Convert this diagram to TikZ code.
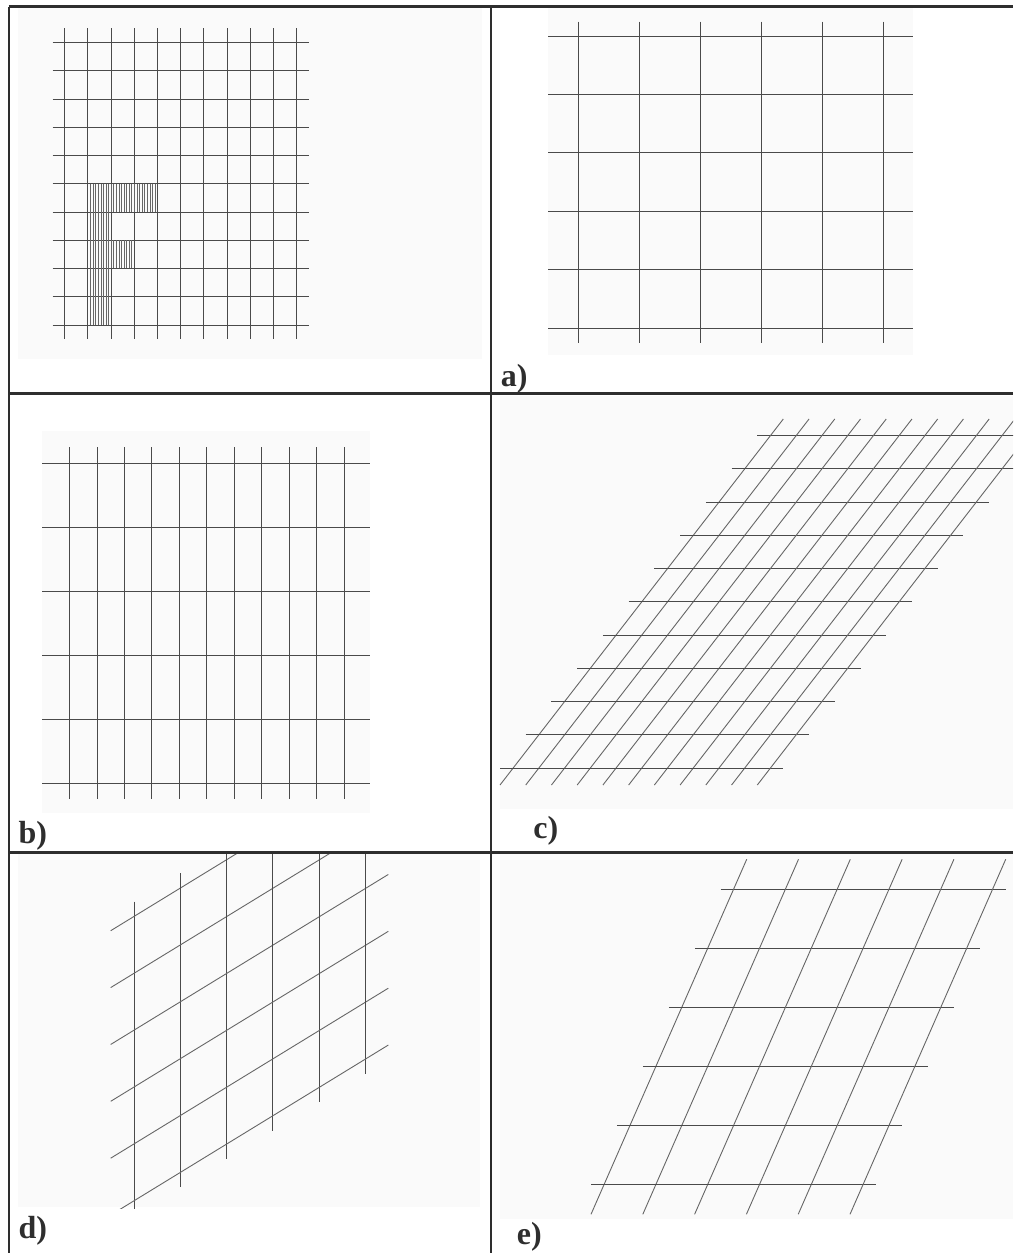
\documentclass[tikz,border=0pt]{standalone}
\usepackage{fontspec}
\setmainfont{Liberation Serif}
\usepackage{tikz}
\definecolor{framecol}{HTML}{2E2E2E}
\definecolor{gridcol}{HTML}{4A4A4A}
\definecolor{hatchcol}{HTML}{666666}
\definecolor{panelcol}{HTML}{FAFAFA}
\tikzset{
	frameline/.style={draw=framecol,line width=1.2pt},
	gridline/.style={draw=gridcol,line width=0.5pt},
	hatchline/.style={draw=hatchcol,line width=0.35pt},
	panelbg/.style={fill=panelcol},
	caselabel/.style={anchor=base west,inner sep=0pt,font=\fontsize{16}{19}\selectfont\bfseries,text=framecol}
}

\begin{document}
\begin{tikzpicture}[x=0.5pt,y=-0.5pt]
	\useasboundingbox (0,0) rectangle (1013,1253);
	\fill[panelbg] (18,8) rectangle (482,359);
	\fill[panelbg] (548,8) rectangle (913.3,355);
	\fill[panelbg] (42,430.7) rectangle (370,813.3);
	\fill[panelbg] (500,396) rectangle (1013,809);
	\fill[panelbg] (18,854) rectangle (480,1206.7);
	\fill[panelbg] (500,854) rectangle (1013,1219.3);

	\foreach \i in {0,...,10} {
		\draw[gridline] (52.7,{42.7+\i*28.23}) -- (308.7,{42.7+\i*28.23});
		\draw[gridline] ({64.7+\i*23.2},28.3) -- ({64.7+\i*23.2},339.3);
	}
	\foreach \k in {1,...,26} {
		\draw[hatchline] ({88+\k*2.578},183.7) -- ++(0,28.3);
	}
	\foreach \k in {1,...,17} {
		\draw[hatchline] ({88+\k*2.578},240.3) -- ++(0,28);
	}
	\foreach \k in {1,...,8} {
		\draw[hatchline] ({88+\k*2.578},212) -- (88+\k*2.578,325);
	}

	\foreach \i in {0,...,5} {
		\draw[gridline] (548,{36+\i*58.46}) -- (913.3,{36+\i*58.46});
		\draw[gridline] ({578.7+\i*60.92},21.7) -- ({578.7+\i*60.92},342.7);
	}

	\foreach \i in {0,...,5} {
		\draw[gridline] (42,{463.3+\i*64}) -- (370,{463.3+\i*64});
	}
	\foreach \j in {0,...,10} {
		\draw[gridline] ({69.7+\j*27.43},447) -- ({69.7+\j*27.43},799.3);
	}

	\begin{scope}
		\clip (495,396) rectangle (1013,809);
		\foreach \i in {0,...,10} {
			\draw[gridline] ({757.3-\i*25.73},{435.7+\i*33.23}) -- ++(283.3,0);
			\draw[hatchline,line width=0.45pt] ({500+\i*25.73},785) -- ({783.3+\i*25.73},419);
		}
	\end{scope}

	\begin{scope}
		\clip (18,854) rectangle (480,1208.3);
		\foreach \i in {0,...,5} {
			\draw[gridline] ({134+\i*46.27},{901.7-\i*28.4}) -- ++(0,314);
			\draw[hatchline,line width=0.45pt] (110.7,{930.7+\i*56.87}) -- (388.3,{760.7+\i*56.87});
		}
	\end{scope}

	\foreach \i in {0,...,5} {
		\draw[gridline] ({720.7-\i*25.93},{889.3+\i*59}) -- ++(285.3,0);
		\draw[hatchline,line width=0.45pt] ({591+\i*51.8},1214.3) -- ({746.7+\i*51.8},859.3);
	}

	\draw[frameline] (8.7,6.5) -- (1013,6.5);
	\draw[frameline] (8.7,393.5) -- (1013,393.5);
	\draw[frameline] (8.7,852.5) -- (1013,852.5);
	\draw[frameline] (8.7,6.5) -- (8.7,1253);
	\draw[frameline] (491,6.5) -- (491,1253);

	\node[caselabel] (lbla) at (500.5,386) {a)};
	\node[caselabel] (lblb) at (18.3,843.5) {b)};
	\node[caselabel] (lblc) at (533,838.5) {c)};
	\node[caselabel] (lbld) at (18.3,1238) {d)};
	\node[caselabel] (lble) at (516.5,1244) {e)};
\end{tikzpicture}
\end{document}
